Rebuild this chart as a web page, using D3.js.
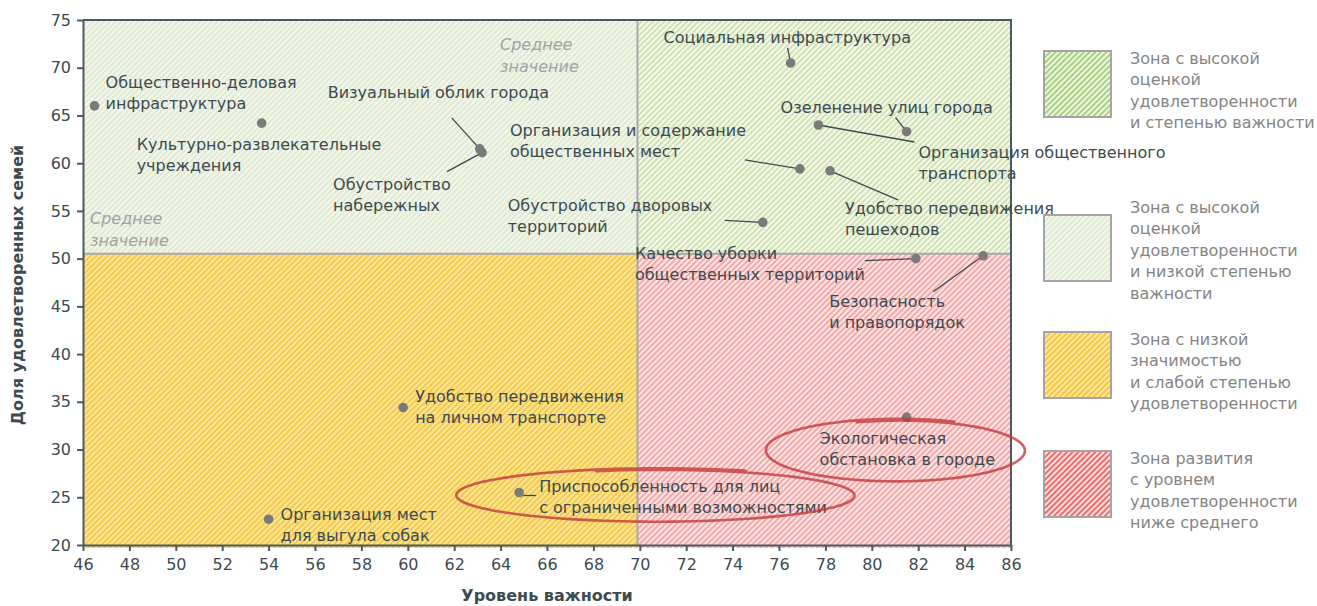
<!DOCTYPE html>
<html lang="ru">
<head>
<meta charset="utf-8">
<title>Уровень важности и удовлетворенность</title>
<script src="https://cdn.jsdelivr.net/npm/d3@7/dist/d3.min.js"></script>
<style>
  body { margin: 0; background: #fff; font-family: "DejaVu Sans", Verdana, sans-serif; }
  .tick text { fill: #3d4b50; font-size: 16px; font-family: "DejaVu Sans", Verdana, sans-serif; }
  .lbl { fill: #3d4b50; font-size: 16px; }
  .avg { fill: #a3a3a3; font-size: 16px; font-style: italic; }
  .leg { fill: #858585; font-size: 16px; }
  .title { fill: #3d4b50; font-size: 16px; font-weight: bold; }
</style>
</head>
<body>
<script>
// --- data ---
var names = [
  "Общественно-деловая\nинфраструктура",
  "Культурно-развлекательные\nучреждения",
  "Визуальный облик города",
  "Обустройство\nнабережных",
  "Социальная инфраструктура",
  "Озеленение улиц города",
  "Организация общественного\nтранспорта",
  "Организация и содержание\nобщественных мест",
  "Удобство передвижения\nпешеходов",
  "Обустройство дворовых\nтерриторий",
  "Качество уборки\nобщественных территорий",
  "Безопасность\nи правопорядок",
  "Экологическая\nобстановка в городе",
  "Приспособленность для лиц\nс ограниченными возможностями",
  "Удобство передвижения\nна личном транспорте",
  "Организация мест\nдля выгула собак"
];
var importance   = [46.5, 53.7, 63.1, 63.2, 76.5, 81.5, 77.7, 76.9, 78.2, 75.3, 81.9, 84.8, 81.5, 64.8, 59.8, 54.0];
var satisfaction = [66.0, 64.2, 61.5, 61.1, 70.5, 63.3, 64.0, 59.4, 59.2, 53.8, 50.0, 50.3, 33.4, 25.5, 34.4, 22.7];

var avgImportance = 69.9;
var avgSatisfaction = 50.5;

var xTickValues = [46, 48, 50, 52, 54, 56, 58, 60, 62, 64, 66, 68, 70, 72, 74, 76, 78, 80, 82, 84, 86];
var yTickValues = [20, 25, 30, 35, 40, 45, 50, 55, 60, 65, 70, 75];

var legendLabels = [
  "Зона с высокой\nоценкой\nудовлетворенности\nи степенью важности",
  "Зона с высокой\nоценкой\nудовлетворенности\nи низкой степенью\nважности",
  "Зона с низкой\nзначимостью\nи слабой степенью\nудовлетворенности",
  "Зона развития\nс уровнем\nудовлетворенности\nниже среднего"
];

// highlighted items (ellipses): centre, radii in axis units
var highlights = [
  { cx: 70.8, cy: 25.2, rx: 8.3, ry: 2.9 },
  { cx: 81.1, cy: 29.9, rx: 5.4, ry: 3.4 }
];

// --- label layout (pixel offsets from the point) ---
var labelPos = [
  { dx: 11, dy: -24 },
  { dx: -125, dy: 21 },
  { dx: -152, dy: -56, lead: [-28, -31, 0, 0] },
  { dx: -149, dy: 32, lead: [-35, 19, 0, 0] },
  { dx: -127, dy: -26, lead: [-3, -15, 0, 0] },
  { dx: -126, dy: -24, lead: [-11, -14, 0, 0] },
  { dx: 100, dy: 27, lead: [0, 0, 96, 17] },
  { dx: -290, dy: -39, lead: [-55, -9, 0, 0] },
  { dx: 15, dy: 38, lead: [0, 0, 68, 29] },
  { dx: -255, dy: -17, lead: [-38, -2, 0, 0] },
  { dx: -281, dy: -5, lead: [-51, 2, 0, 0] },
  { dx: -154, dy: 46, lead: [-50, 36, 0, 0] },
  { dx: -87, dy: 21 },
  { dx: 20, dy: -6, lead: [4, 3, 17, 3] },
  { dx: 12, dy: -11 },
  { dx: 12, dy: -5 }
];

var width = 1317, height = 606;
var margin = { left: 83, right: 306, top: 20, bottom: 61 };

var svg = d3.select("body").append("svg")
  .attr("width", width)
  .attr("height", height);

var x = d3.scaleLinear().domain([46, 86]).range([margin.left, width - margin.right]);
var y = d3.scaleLinear().domain([20, 75]).range([height - margin.bottom, margin.top]);

// hatch patterns
var defs = svg.append("defs");
function hatch(id, bg, stripe, size) {
  var p = defs.append("pattern")
    .attr("id", id)
    .attr("patternUnits", "userSpaceOnUse")
    .attr("width", size).attr("height", size)
    .attr("patternTransform", "rotate(45)");
  p.append("rect").attr("width", size).attr("height", size).attr("fill", bg);
  p.append("rect").attr("width", size / 2).attr("height", size).attr("fill", stripe);
}
hatch("hGreen", "#f6f9f0", "#cfe2b0", 4);
hatch("hPale", "#f4f7ef", "#e0eacf", 4);
hatch("hYellow", "#fbe6a0", "#f6c945", 4);
hatch("hPink", "#fde6e6", "#f6a8a8", 4);
hatch("lGreen", "#eef6e4", "#a8d27e", 4);
hatch("lPale", "#f5f8f0", "#dfebcf", 4);
hatch("lYellow", "#fde9a4", "#f7c63c", 4);
hatch("lPink", "#fde2e2", "#f26a6a", 4);

var x0 = x(46), x1 = x(avgImportance), x2 = x(86);
var y0 = y(75), y1 = y(avgSatisfaction), y2 = y(20);

var zones = [
  { a: x0, b: x1, t: y0, u: y1, f: "hPale" },
  { a: x1, b: x2, t: y0, u: y1, f: "hGreen" },
  { a: x0, b: x1, t: y1, u: y2 + 3, f: "hYellow" },
  { a: x1, b: x2, t: y1, u: y2 + 3, f: "hPink" }
];
svg.append("g").selectAll("rect")
  .data(zones)
  .enter()
  .append("rect")
  .attr("x", function(d) { return d.a; })
  .attr("y", function(d) { return d.t; })
  .attr("width", function(d) { return d.b - d.a; })
  .attr("height", function(d) { return d.u - d.t; })
  .attr("fill", function(d) { return "url(#" + d.f + ")"; });

// average lines
svg.append("line")
  .attr("x1", x1).attr("x2", x1).attr("y1", y0).attr("y2", y2)
  .attr("stroke", "#a9a9a9").attr("stroke-width", 2);
svg.append("line")
  .attr("x1", x0).attr("x2", x2).attr("y1", y1).attr("y2", y1)
  .attr("stroke", "#a9a9a9").attr("stroke-width", 2);

// frame top/right
svg.append("path")
  .attr("d", "M" + x0 + "," + y0 + "H" + x2 + "V" + y2)
  .attr("fill", "none").attr("stroke", "#4b5a60").attr("stroke-width", 2);

// axes
svg.append("g")
  .attr("transform", "translate(0," + y2 + ")")
  .call(d3.axisBottom(x).tickValues(xTickValues).tickSize(6).tickPadding(8).tickSizeOuter(0));
svg.append("g")
  .attr("transform", "translate(" + x0 + ",0)")
  .call(d3.axisLeft(y).tickValues(yTickValues).tickSize(6).tickPadding(6).tickSizeOuter(0));
svg.selectAll(".domain, .tick line").attr("stroke", "#4b5a60").attr("stroke-width", 2);

// axis titles
svg.append("text").attr("class", "title")
  .attr("x", (x0 + x2) / 2).attr("y", 601).attr("text-anchor", "middle")
  .text("Уровень важности");
svg.append("text").attr("class", "title")
  .attr("transform", "translate(23,285) rotate(-90)")
  .attr("text-anchor", "middle")
  .text("Доля удовлетворенных семей");

// "average" notes
function multi(sel, str, lh) {
  str.split("\n").forEach(function(s, i) {
    sel.append("tspan").attr("x", sel.attr("x")).attr("dy", i === 0 ? "0.35em" : lh).text(s);
  });
}
multi(svg.append("text").attr("class", "avg").attr("x", 90).attr("y", 218), "Среднее\nзначение", 22);
multi(svg.append("text").attr("class", "avg").attr("x", 500).attr("y", 44), "Среднее\nзначение", 22);

// points data
var pts = names.map(function(n, i) {
  return { name: n, imp: importance[i], sat: satisfaction[i], pos: labelPos[i] };
});

// leaders
svg.append("g").selectAll("line")
  .data(pts.filter(function(d) { return d.pos.lead; }))
  .enter()
  .append("line")
  .attr("x1", function(d) { return x(d.imp) + d.pos.lead[0]; })
  .attr("y1", function(d) { return y(d.sat) + d.pos.lead[1]; })
  .attr("x2", function(d) { return x(d.imp) + d.pos.lead[2]; })
  .attr("y2", function(d) { return y(d.sat) + d.pos.lead[3]; })
  .attr("stroke", "#3d4b50").attr("stroke-width", 1.3);

// dots
svg.append("g").selectAll("circle")
  .data(pts)
  .enter()
  .append("circle")
  .attr("cx", function(d) { return x(d.imp); })
  .attr("cy", function(d) { return y(d.sat); })
  .attr("r", 4.8)
  .attr("fill", "#7a7a7a");

// labels
svg.append("g").selectAll("text")
  .data(pts)
  .enter()
  .append("text")
  .attr("class", "lbl")
  .attr("x", function(d) { return x(d.imp) + d.pos.dx; })
  .attr("y", function(d) { return y(d.sat) + d.pos.dy; })
  .each(function(d) { multi(d3.select(this), d.name, 21); });

// hand-drawn ellipses
var sketch = d3.line().curve(d3.curveBasis);
highlights.forEach(function(h) {
  var cx = x(h.cx), cy = y(h.cy);
  var rx = x(h.cx + h.rx) - cx, ry = cy - y(h.cy + h.ry);
  var p = d3.range(0, 2 * Math.PI + 0.8, 0.05).map(function(t, i, arr) {
    var k = 1 + 0.07 * (i / arr.length);
    var a = t - 1.9;
    return [cx + rx * k * Math.cos(a), cy + ry * k * 0.92 * Math.sin(a)];
  });
  svg.append("path")
    .attr("d", sketch(p))
    .attr("fill", "none")
    .attr("stroke", "#c23a3c")
    .attr("stroke-opacity", 0.8)
    .attr("stroke-width", 2.6)
    .attr("stroke-linecap", "round");
});

// legend
var legFill = ["lGreen", "lPale", "lYellow", "lPink"];
var legTop = [51, 215, 332, 451];
var legend = svg.append("g").selectAll("g")
  .data(legendLabels)
  .enter()
  .append("g")
  .attr("transform", function(d, i) { return "translate(1044," + legTop[i] + ")"; });
legend.append("rect")
  .attr("width", 67).attr("height", 66)
  .attr("fill", function(d, i) { return "url(#" + legFill[i] + ")"; })
  .attr("stroke", "#a5a5a5").attr("stroke-width", 2);
legend.append("text")
  .attr("class", "leg")
  .attr("x", 86)
  .attr("y", function(d, i) { return i === 1 ? -8 : 7; })
  .each(function(d) { multi(d3.select(this), d, 21.5); });
</script>
</body>
</html>
